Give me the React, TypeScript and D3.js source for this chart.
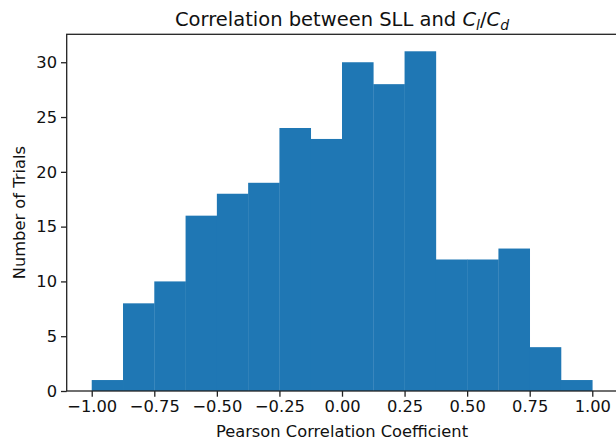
import React, { useEffect, useRef } from "react"
import * as d3 from "d3"

// histogram bins (edges from -1 to 1, 16 bins) and counts
const binEdges = d3.range(17).map(i => -1 + i * 0.125)
const counts = [1, 8, 10, 16, 18, 19, 24, 23, 30, 28, 31, 12, 12, 13, 4, 1]
const xTicks = [-1, -0.75, -0.5, -0.25, 0, 0.25, 0.5, 0.75, 1]
const yTicks = [0, 5, 10, 15, 20, 25, 30]

export default function App() {
  const ref = useRef<SVGSVGElement>(null)

  useEffect(() => {
    const svg = d3.select(ref.current)
    svg.selectAll("*").remove()
    const width = 616
    const height = 440
    const left = 66.7, right = 617.3, top = 34.3, bottom = 391

    const x = d3.scaleLinear().domain([-1.1, 1.1]).range([left, right])
    const y = d3.scaleLinear().domain([0, 32.55]).range([bottom, top])

    const font = "DejaVu Sans, sans-serif"
    const fs = 16.3

    svg.append("rect").attr("width", width).attr("height", height).attr("fill", "white")

    svg.append("g")
      .selectAll("rect")
      .data(counts)
      .enter()
      .append("rect")
      .attr("x", (d, i) => x(binEdges[i]))
      .attr("width", (d, i) => x(binEdges[i + 1]) - x(binEdges[i]) + 0.3)
      .attr("y", d => y(d))
      .attr("height", d => y(0) - y(d))
      .attr("fill", "#1f77b4")

    // spines
    svg.append("rect")
      .attr("x", left).attr("y", top)
      .attr("width", right - left).attr("height", bottom - top)
      .attr("fill", "none").attr("stroke", "#222").attr("stroke-width", 1.3)

    const xAxis = d3.axisBottom(x).tickValues(xTicks).tickSize(5.7).tickPadding(4)
    const gx = svg.append("g").attr("transform", "translate(0," + bottom + ")").call(xAxis)
    gx.select(".domain").remove()
    gx.selectAll("line").attr("stroke", "#222").attr("stroke-width", 1.3)
    gx.selectAll("text")
      .text(d => d3.format(".2f")(d as number).replace("-", "\u2212"))
      .attr("font-family", font).attr("font-size", fs).attr("fill", "#111")

    const yAxis = d3.axisLeft(y).tickValues(yTicks).tickSize(5.7).tickPadding(4)
    const gy = svg.append("g").attr("transform", "translate(" + left + ",0)").call(yAxis)
    gy.select(".domain").remove()
    gy.selectAll("line").attr("stroke", "#222").attr("stroke-width", 1.3)
    gy.selectAll("text").attr("font-family", font).attr("font-size", fs).attr("fill", "#111")

    svg.append("text")
      .attr("x", (left + right) / 2).attr("y", 437)
      .attr("text-anchor", "middle")
      .attr("font-family", font).attr("font-size", fs).attr("fill", "#111")
      .text("Pearson Correlation Coefficient")

    svg.append("text")
      .attr("transform", "translate(25," + (top + bottom) / 2 + ") rotate(-90)")
      .attr("text-anchor", "middle")
      .attr("font-family", font).attr("font-size", fs).attr("fill", "#111")
      .text("Number of Trials")

    const title = svg.append("text")
      .attr("x", (left + right) / 2).attr("y", 26)
      .attr("text-anchor", "middle")
      .attr("font-family", font).attr("font-size", 19.5).attr("fill", "#111")
    title.append("tspan").text("Correlation between SLL and ")
    title.append("tspan").attr("font-style", "italic").text("C")
    title.append("tspan").attr("font-style", "italic").attr("font-size", 14).attr("dy", 4).text("l")
    title.append("tspan").attr("dy", -4).text("/")
    title.append("tspan").attr("font-style", "italic").text("C")
    title.append("tspan").attr("font-style", "italic").attr("font-size", 14).attr("dy", 4).text("d")
  }, [])

  return <svg ref={ref} width={616} height={440} style={{ display: "block", position: "absolute", left: 0, top: 0 }} />
}
